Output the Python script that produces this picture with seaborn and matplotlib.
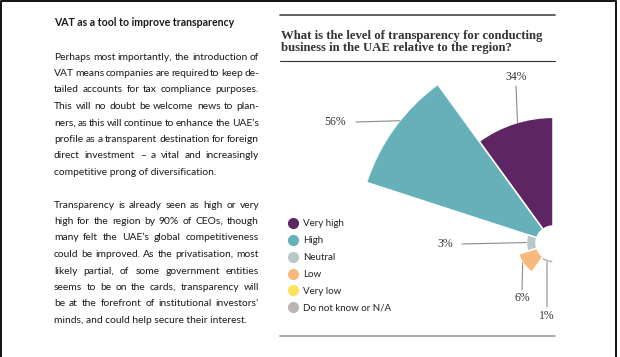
"""
Rose chart: transparency of doing business in the UAE,
next to the article column it sits beside.
"""
import numpy as np
import matplotlib
matplotlib.use('Agg')
import matplotlib.pyplot as plt
from matplotlib.lines import Line2D
import seaborn as sns

# ── Data ───────────────────────────────────────────────────────────
categories = ['Very high', 'High', 'Neutral', 'Low', 'Very low', 'Do not know or N/A']
shares = [34, 56, 3, 6, 0, 1]
colours = ['#5e2563', '#65b0b9', '#b7c8cb', '#f9b97d', '#fde25c', '#bcb3b3']

heading = 'VAT as a tool to improve transparency'
para1 = [
    'Perhaps most importantly, the introduction of',
    'VAT means companies are required to keep de-',
    'tailed accounts for tax compliance purposes.',
    'This will no doubt be welcome news to plan-',
    'ners, as this will continue to enhance the UAE\u2019s',
    'profile as a transparent destination for foreign',
    'direct investment \u2013 a vital and increasingly',
    'competitive prong of diversification.',
]
para2 = [
    'Transparency is already seen as high or very',
    'high for the region by 90% of CEOs, though',
    'many felt the UAE\u2019s global competitiveness',
    'could be improved. As the privatisation, most',
    'likely partial, of some government entities',
    'seems to be on the cards, transparency will',
    'be at the forefront of institutional investors\u2019',
    'minds, and could help secure their interest.',
]
question = ['What is the level of transparency for conducting',
            'business in the UAE relative to the region?']

# ── Figure setup ───────────────────────────────────────────────────
sns.set_theme(style='white')
W, H = 620, 357
fig = plt.figure(figsize=(W / 100, H / 100), dpi=100)
fig.patch.set_facecolor('white')
renderer = fig.canvas.get_renderer()

SANS = 'Lato'
SERIF = 'Liberation Serif'


def px(x, y):
    """pixel position measured from the top-left -> figure fraction"""
    return x / W, 1 - y / H


def hline(x0, x1, y, color, lw):
    fig.add_artist(Line2D([x0 / W, x1 / W], [1 - y / H, 1 - y / H],
                          color=color, lw=lw, transform=fig.transFigure))


# page border (left, top, right)
fig.add_artist(Line2D([1 / W, 1 / W, 616 / W, 616 / W], [0, 1 - 0.6 / H, 1 - 0.6 / H, 0],
                      color='#111111', lw=1.4, transform=fig.transFigure))

# ── Article column ─────────────────────────────────────────────────
body = dict(fontsize=7.4, family=SANS, color='#1a1a1a', va='baseline')


def justified(line, y, last=False, x0=54, x1=259):
    if last:
        fig.text(*px(x0, y), line, **body)
        return
    words = line.split(' ')
    texts = [fig.text(0, 0, w, **body) for w in words]
    widths = [t.get_window_extent(renderer).width for t in texts]
    gap = (x1 - x0 - sum(widths)) / (len(words) - 1)
    x = x0
    for t, w in zip(texts, widths):
        t.set_position(px(x, y))
        x += w + gap


fig.text(*px(54, 26.5), heading, fontsize=7.6, family=SANS, weight='bold',
         color='#1a1a1a', va='baseline')
for i, line in enumerate(para1):
    justified(line, 59.5 + 16.5 * i, last=(i == len(para1) - 1))
for i, line in enumerate(para2):
    justified(line, 207.5 + 16.5 * i, last=(i == len(para2) - 1))

# ── Chart column ───────────────────────────────────────────────────
hline(280, 555, 15, '#555555', 1.3)
hline(280, 555, 61, '#333333', 0.8)
hline(280, 555, 336, '#999999', 1.2)
for i, line in enumerate(question):
    fig.text(*px(281, 39 + 12 * i), line, fontsize=9.2, family=SERIF,
             weight='bold', color='#333333', va='baseline')

# rose: one 36 degree slot per answer given, radius = share, with a hole
R = 196      # pixel radius of the largest wedge
hole = 5.3   # hole radius in share units
shown = [i for i, v in enumerate(shares) if v > 0]
theta = np.deg2rad(90 + 36 * (np.arange(len(shown)) + 0.5))

cx, cy = 553, 243
ax = fig.add_axes([(cx - R) / W, (H - cy - R) / H, 2 * R / W, 2 * R / H], projection='polar')
ax.bar(theta, [shares[i] for i in shown], width=np.deg2rad(36), bottom=hole,
       color=[colours[i] for i in shown], edgecolor='white', linewidth=1.1)
ax.set_ylim(0, hole + max(shares))
ax.axis('off')

# value labels with leader lines: (label xy, line start xy, wedge angle)
leaders = {
    'Very high': ((516, 77), (516, 86), 106.4),
    'High': ((335, 122), (356, 122), 141.4),
    'Neutral': ((445, 244), (462, 244), 179.0),
    'Low': ((522, 298), (522, 290), 213.0),
    'Do not know or N/A': ((547, 316), (547, 307), 252.5),
}
for cat, (lab, start, ang) in leaders.items():
    v = shares[categories.index(cat)]
    ax.annotate('', xy=(np.deg2rad(ang), hole + v), xytext=px(*start),
                textcoords='figure fraction', annotation_clip=False,
                arrowprops=dict(arrowstyle='-', color='#8c8c8c', lw=0.8,
                                shrinkA=0, shrinkB=0))
    fig.text(*px(*lab), f'{v}%', fontsize=8.5, family=SERIF, color='#333333',
             ha='center', va='center')

# legend
handles = [Line2D([], [], marker='o', ls='', markersize=7, color=c) for c in colours]
fig.legend(handles, categories, loc='upper left', bbox_to_anchor=px(288, 219),
           frameon=False, prop=dict(family=SANS, size=7),
           handlelength=1, handletextpad=0.55, labelspacing=0.82,
           borderpad=0, borderaxespad=0, labelcolor='#222222')

fig.savefig('out.png', dpi=100, facecolor='white')
